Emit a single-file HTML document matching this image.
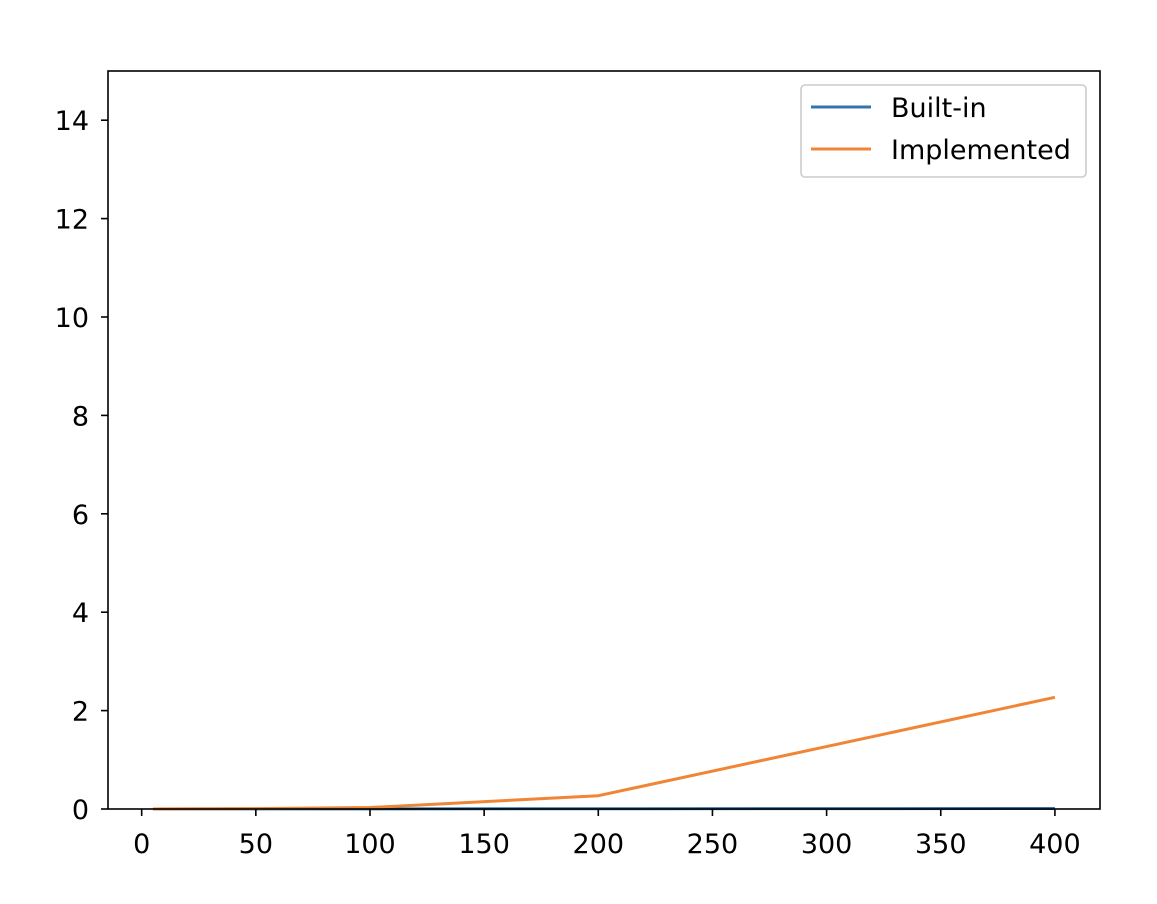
<!DOCTYPE html>
<html><head><meta charset="utf-8"><style>
body{margin:0;background:#fff;}
svg text{font-family:"DejaVu Sans","Liberation Sans",sans-serif;font-size:27px;fill:#000;}
</style></head><body>
<svg id="chart" width="1157" height="899" xmlns="http://www.w3.org/2000/svg"></svg>
<script>
const xValues=[5,10,50,100,200,400];
const builtIn=[0.001,0.001,0.002,0.003,0.005,0.01];
const implemented=[0.001,0.002,0.008,0.03,0.27,2.27];
const xTicks=[0,50,100,150,200,250,300,350,400];
const yTicks=[0,2,4,6,8,10,12,14];
const L=108,R=1100,T=71,B=809,xmin=-14.75,xmax=419.75,ymin=0,ymax=15;
const sx=v=>L+(v-xmin)/(xmax-xmin)*(R-L);
const sy=v=>B-(v-ymin)/(ymax-ymin)*(B-T);
const svg=document.getElementById('chart');
const NS='http://www.w3.org/2000/svg';
function mk(tag,attrs,parent){const e=document.createElementNS(NS,tag);for(const k in attrs)e.setAttribute(k,attrs[k]);(parent||svg).appendChild(e);return e;}
function series(vals,color,name){
 const p=mk('polyline',{points:xValues.map((x,i)=>sx(x)+','+sy(vals[i])).join(' '),fill:'none',stroke:color,'stroke-width':3,'stroke-linejoin':'round'});
 
 
}
series(builtIn,'#3274ae','built-in-line');
series(implemented,'#f08536','implemented-line');
const frame=mk('rect',{x:L,y:T,width:R-L,height:B-T,fill:'none',stroke:'#000','stroke-width':1.6});


xTicks.forEach(t=>{const x=sx(t);
 mk('line',{x1:x,x2:x,y1:B,y2:B+7,stroke:'#000','stroke-width':1.6});
 const tx=mk('text',{x:x,y:B+44,'text-anchor':'middle'});tx.textContent=t;
 
 });
yTicks.forEach(t=>{const y=sy(t);
 mk('line',{x1:L-7,x2:L,y1:y,y2:y,stroke:'#000','stroke-width':1.6});
 const tx=mk('text',{x:L-19,y:y+10,'text-anchor':'end'});tx.textContent=t;
 
 });
const lg=mk('g',{});


mk('rect',{x:801,y:85,width:285,height:92,rx:4,fill:'#fff',stroke:'#ccc','stroke-width':1.6},lg);
mk('line',{x1:811,x2:871,y1:107,y2:107,stroke:'#3274ae','stroke-width':3},lg);
mk('line',{x1:811,x2:871,y1:149,y2:149,stroke:'#f08536','stroke-width':3},lg);
const t1=mk('text',{x:891,y:117},lg);t1.textContent='Built-in';


const t2=mk('text',{x:891,y:159},lg);t2.textContent='Implemented';


</script>
</body></html>
